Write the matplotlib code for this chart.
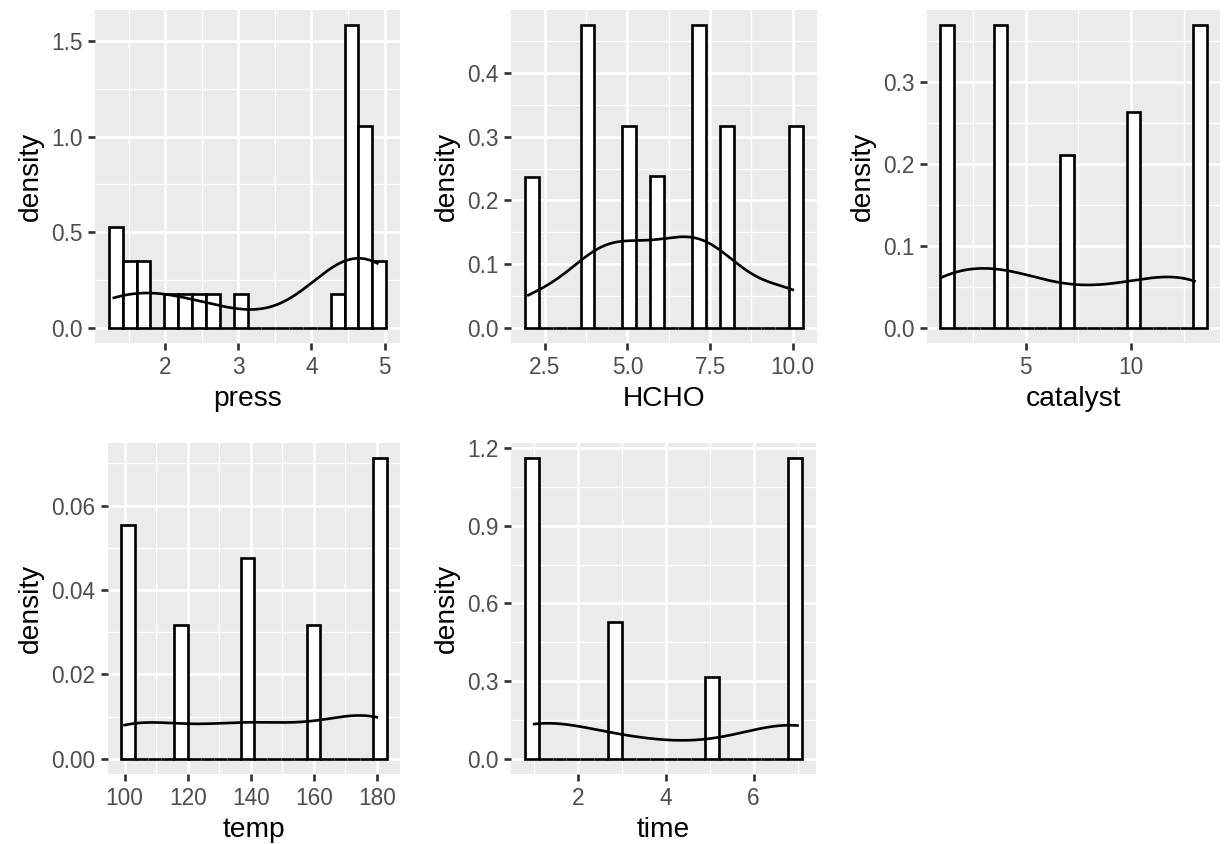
import numpy as np
import matplotlib
matplotlib.use("Agg")
import matplotlib.pyplot as plt
import seaborn as sns

plt.rcParams['font.family'] = ['Liberation Sans', 'DejaVu Sans']

# observed values and how often each occurs (30 runs per variable)
press_values = [1.3, 1.4, 1.5, 1.7, 2.1, 2.3, 2.5, 2.7, 3.0, 4.4, 4.5, 4.6, 4.7, 4.8, 4.9]
press_counts = [2, 1, 2, 2, 1, 1, 1, 1, 1, 1, 4, 5, 3, 3, 2]

hcho_values = [2, 4, 5, 6, 7, 8, 10]
hcho_counts = [3, 6, 4, 3, 6, 4, 4]

catalyst_values = [1, 4, 7, 10, 13]
catalyst_counts = [7, 7, 4, 5, 7]

temp_values = [100, 120, 140, 160, 180]
temp_counts = [7, 4, 6, 4, 9]

time_values = [1, 3, 5, 7]
time_counts = [11, 5, 3, 11]

# ticks
press_xticks, press_xlabels = [2, 3, 4, 5], ['2', '3', '4', '5']
press_yticks, press_ylabels = [0, 0.5, 1.0, 1.5], ['0.0', '0.5', '1.0', '1.5']
hcho_xticks, hcho_xlabels = [2.5, 5, 7.5, 10], ['2.5', '5.0', '7.5', '10.0']
hcho_yticks, hcho_ylabels = [0, 0.1, 0.2, 0.3, 0.4], ['0.0', '0.1', '0.2', '0.3', '0.4']
catalyst_xticks, catalyst_xlabels = [5, 10], ['5', '10']
catalyst_yticks, catalyst_ylabels = [0, 0.1, 0.2, 0.3], ['0.0', '0.1', '0.2', '0.3']
temp_xticks, temp_xlabels = [100, 120, 140, 160, 180], ['100', '120', '140', '160', '180']
temp_yticks, temp_ylabels = [0, 0.02, 0.04, 0.06], ['0.00', '0.02', '0.04', '0.06']
time_xticks, time_xlabels = [2, 4, 6], ['2', '4', '6']
time_yticks, time_ylabels = [0, 0.3, 0.6, 0.9, 1.2], ['0.0', '0.3', '0.6', '0.9', '1.2']

W, H = 1225, 844
LW = 1.1


def gg_breaks(x, bins=20):
    # same bin layout as ggplot2 geom_histogram(bins = 20)
    lo, hi = x.min(), x.max()
    width = (hi - lo) / (bins - 1)
    boundary = width / 2
    origin = boundary + np.floor((lo - boundary) / width) * width
    n = int(np.floor((hi + (1 - 1e-8) * width - origin) / width + 1e-10))
    breaks = origin + width * np.arange(n + 1)
    fuzz = 1e-8 * width
    fuzzy = breaks + fuzz
    fuzzy[0] = breaks[0] - fuzz
    return fuzzy


def nrd0(x):
    hi = np.std(x, ddof=1)
    q75, q25 = np.percentile(x, [75, 25])
    lo = min(hi, (q75 - q25) / 1.34)
    return 0.9 * lo * len(x) ** -0.2


def minor_of(ticks, lo, hi):
    step = ticks[1] - ticks[0]
    m = [ticks[0] - step / 2] + [t + step / 2 for t in ticks]
    return [v for v in m if lo <= v <= hi]


def panel(box, values, counts, name, xt, xl, yt, yl):
    l, t, r, b = box
    ax = fig.add_axes([l / W, 1 - b / H, (r - l) / W, (b - t) / H])
    ax.set_facecolor('#EBEBEB')
    obs = np.repeat(np.array(values, dtype=float), counts)
    brk = gg_breaks(obs)
    dens, _, _ = ax.hist(obs, bins=brk, density=True, fc='white', ec='black',
                         lw=LW, zorder=2)
    bw = nrd0(obs)
    sns.kdeplot(x=obs, bw_method=bw / np.std(obs, ddof=1), cut=0, gridsize=512,
                color='black', lw=LW, ax=ax, zorder=3)
    kmax = max(line.get_ydata().max() for line in ax.lines)
    ymax = max(dens.max(), kmax)
    span = brk[-1] - brk[0]
    xlo, xhi = brk[0] - 0.05 * span, brk[-1] + 0.05 * span
    ylo, yhi = -0.05 * ymax, 1.05 * ymax
    ax.set_xlim(xlo, xhi)
    ax.set_ylim(ylo, yhi)
    ax.set_xticks(xt, xl)
    ax.set_yticks(yt, yl)
    ax.set_xticks(minor_of(xt, xlo, xhi), minor=True)
    ax.set_yticks(minor_of(yt, ylo, yhi), minor=True)
    ax.grid(which='major', color='white', lw=LW, zorder=0)
    ax.grid(which='minor', color='white', lw=LW / 2, zorder=0)
    ax.set_axisbelow(True)
    for s in ax.spines.values():
        s.set_visible(False)
    ax.tick_params(which='major', direction='out', length=2.9, width=LW,
                   color='#333333', labelcolor='#4D4D4D', labelsize=9.3, pad=2.3)
    ax.tick_params(which='minor', length=0)
    ax.set_xlabel(name, fontsize=11.6, labelpad=2.9)
    ax.set_ylabel('density', fontsize=11.6, labelpad=2.9)
    return ax


fig = plt.figure(figsize=(W / 175, H / 175), dpi=175)

panel((95, 10, 400, 343), press_values, press_counts, 'press',
      press_xticks, press_xlabels, press_yticks, press_ylabels)
panel((511, 10, 817, 343), hcho_values, hcho_counts, 'HCHO',
      hcho_xticks, hcho_xlabels, hcho_yticks, hcho_ylabels)
panel((927, 10, 1220, 343), catalyst_values, catalyst_counts, 'catalyst',
      catalyst_xticks, catalyst_xlabels, catalyst_yticks, catalyst_ylabels)
panel((108, 443, 400, 774), temp_values, temp_counts, 'temp',
      temp_xticks, temp_xlabels, temp_yticks, temp_ylabels)
panel((511, 443, 816, 774), time_values, time_counts, 'time',
      time_xticks, time_xlabels, time_yticks, time_ylabels)

fig.savefig('out.png', dpi=175, facecolor='white')
